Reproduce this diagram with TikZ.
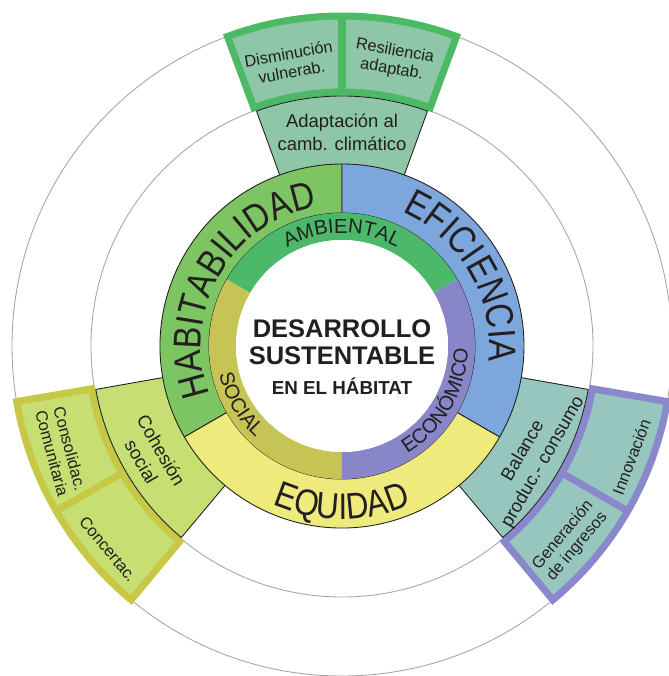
\documentclass[tikz,border=0pt]{standalone}
\usepackage{fontspec}
\setmainfont{Liberation Sans}
\newfontfamily\ringfont[FakeStretch=0.85]{Liberation Sans}
\usetikzlibrary{decorations.text}
\definecolor{habverde}{HTML}{7DC462}
\definecolor{efiazul}{HTML}{7DA6DC}
\definecolor{equamarillo}{HTML}{EEEA7C}
\definecolor{ambverde}{HTML}{4CB86A}
\definecolor{ecovioleta}{HTML}{8886C8}
\definecolor{socoliva}{HTML}{C5C455}
\definecolor{cajaverde}{HTML}{8EC6A8}
\definecolor{bordeverde}{HTML}{4CB964}
\definecolor{cajalima}{HTML}{C6DE72}
\definecolor{bordelima}{HTML}{C6C846}
\definecolor{cajaturq}{HTML}{96C6BE}
\definecolor{bordevioleta}{HTML}{8A88CC}
\definecolor{texto}{HTML}{231F20}
\def\sector[#1](#2:#3:#4:#5){\draw[#1] (#2:#4) arc (#2:#3:#4) -- (#3:#5) arc (#3:#2:#5) -- cycle;}
\def\ringtext[#1](#2:#3:#4)#5{\path[decorate,decoration={text along path,text align=center,text={|#1|#5}}] (#2:#4) arc (#2:#3:#4);}

\begin{document}
\begin{tikzpicture}[x=0.02cm, y=0.02cm,
		caja/.style={font=\fontsize{10.5}{13}\selectfont, align=center, text=texto},
		subcaja/.style={font=\fontsize{9.3}{10.5}\selectfont, align=center, text=texto}]
		%%%%% START %%%%%
		
		\useasboundingbox (-342,-330) rectangle (327,346);
		\clip (-342,-330) rectangle (327,346);
		
		\draw[line width=0.5pt, color=black!35] (0,0) circle (251);
		\draw[line width=0.5pt, color=black!35] (0,0) circle (330);
		
		\sector[fill=cajaverde, draw=bordeverde, line width=4pt](69.7:110.3:254:330)
		\draw[line width=4pt, color=bordeverde] (90:254) -- (90:330);
		\sector[fill=cajalima, draw=bordelima, line width=4pt](189.7:230.3:254:330)
		\draw[line width=4pt, color=bordelima] (210:254) -- (210:330);
		\sector[fill=cajaturq, draw=bordevioleta, line width=4pt](309.7:350.3:254:330)
		\draw[line width=4pt, color=bordevioleta] (330:254) -- (330:330);
		
		\sector[fill=cajaverde, draw=texto, line width=0.5pt](70:110:150:250)
		\sector[fill=cajalima, draw=texto, line width=0.5pt](190:230:150:250)
		\sector[fill=cajaturq, draw=texto, line width=0.5pt](310:350:150:250)
		
		\sector[fill=habverde, draw=texto, line width=0.5pt](90:210:133:182)
		\sector[fill=efiazul, draw=texto, line width=0.5pt](-30:90:133:182)
		\sector[fill=equamarillo, draw=texto, line width=0.5pt](210:330:133:182)
		
		\sector[fill=ambverde, draw=none](30:150:106:133)
		\sector[fill=socoliva, draw=none](150:270:106:133)
		\sector[fill=ecovioleta, draw=none](270:390:106:133)
		\fill[white] (0,0) circle (106);
		
		\ringtext[\color{texto}\ringfont\fontsize{22}{22}\selectfont](215:85:141){HABITABILIDAD}
		\ringtext[\color{texto}\ringfont\fontsize{22}{22}\selectfont](95:-35:147){EFICIENCIA}
		\ringtext[\color{texto}\ringfont\fontsize{21}{21}\selectfont](205:335:173){EQUIDAD}
		\ringtext[\color{texto}\fontsize{11.5}{11.5}\selectfont](130:50:113){AMBIENTAL}
		\ringtext[\color{texto}\fontsize{11.5}{11.5}\selectfont](170:250:126){SOCIAL}
		\ringtext[\color{texto}\fontsize{11.5}{11.5}\selectfont](290:370:126){ECONÓMICO}
		
		\node[font=\bfseries\fontsize{14.5}{14.5}\selectfont, text=texto, anchor=base] (desarrollo) at (0,9) {DESARROLLO};
		\node[font=\bfseries\fontsize{14.5}{14.5}\selectfont, text=texto, anchor=base] (sustentable) at (0,-19) {SUSTENTABLE};
		\node[font=\bfseries\fontsize{10.7}{10.7}\selectfont, text=texto, anchor=base] (habitat) at (0,-49) {EN EL HÁBITAT};
		
		\node[caja] (adaptacion) at (90:214) {Adaptación al\\camb. climático};
		\node[caja, rotate=-60] (cohesion) at (210:220) {Cohesión\\social};
		\node[caja, rotate=60] (balance) at (330:221) {Balance\\produc.- consumo};
		
		\node[subcaja, rotate=10] (disminucion) at (100.4:288) {Disminución\\vulnerab.};
		\node[subcaja, rotate=-10] (resiliencia) at (79.8:290) {Resiliencia\\adaptab.};
		\node[subcaja, rotate=-75] (consolidac) at (200.5:300) {Consolidac.\\Comunitaria};
		\node[subcaja, rotate=-50] (concertac) at (221:310) {Concertac.};
		\node[subcaja, rotate=69] (innovacion) at (339:310) {Innovación};
		\node[subcaja, rotate=50] (generacion) at (319.5:300) {Generación\\de ingresos};
		
		%%%%% END %%%%%
\end{tikzpicture}
\end{document}
